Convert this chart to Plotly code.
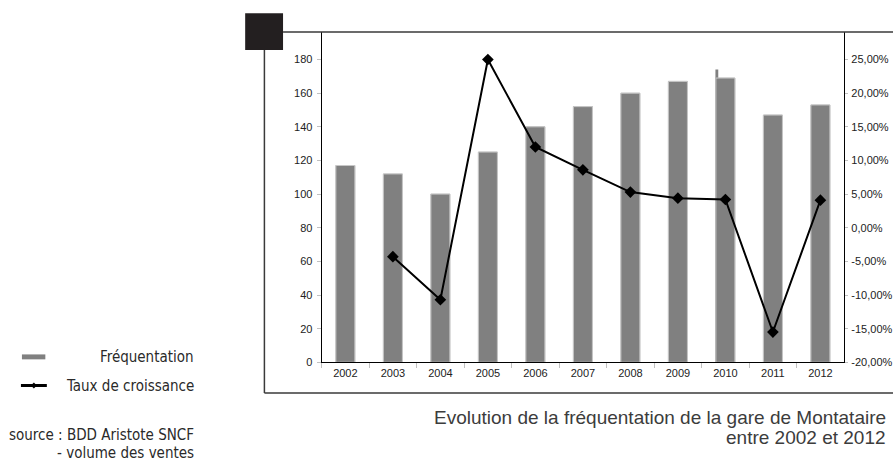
import plotly.graph_objects as go

# ---- data ----
years = ["2002", "2003", "2004", "2005", "2006", "2007", "2008", "2009", "2010", "2011", "2012"]
frequentation = [117, 112, 100, 125, 140, 152, 160, 167, 169, 147, 153]
spike_year = ["2010"]
spike_value = [174]
growth = [None, -4.3, -10.7, 25.0, 12.0, 8.6, 5.3, 4.4, 4.2, -15.5, 4.1]

left_ticks = [0, 20, 40, 60, 80, 100, 120, 140, 160, 180]
right_ticks = [-20, -15, -10, -5, 0, 5, 10, 15, 20, 25]
right_ticktext = ["-20,00%", "-15,00%", "-10,00%", "-5,00%", "0,00%",
                  "5,00%", "10,00%", "15,00%", "20,00%", "25,00%"]

legend_labels = ["Fréquentation", "Taux de croissance"]
source_lines = ["source : BDD Aristote SNCF", "- volume des ventes"]
title_lines = ["Evolution de la fréquentation de la gare de Montataire", "entre 2002 et 2012"]

W, H = 893, 470


def px(x):
    return x / W


def py(y):
    return 1 - y / H


NARROW = "DejaVu Sans Condensed, Liberation Sans Narrow, Arial Narrow, sans-serif"
REG = "Liberation Sans, Arial, sans-serif"
BAR_COLOR = "#808080"

fig = go.Figure()

fig.add_bar(x=years, y=frequentation, width=0.4, name=legend_labels[0],
            marker=dict(color=BAR_COLOR, line=dict(color="#c8c8c8", width=1)),
            showlegend=False)
fig.add_bar(x=spike_year, y=spike_value, width=0.06, offset=-0.21,
            marker=dict(color=BAR_COLOR, line=dict(width=0)),
            showlegend=False, hoverinfo="skip")
fig.add_bar(x=years, y=frequentation, width=0.4, showlegend=False, hoverinfo="skip",
            marker=dict(color=BAR_COLOR, line=dict(color="#c8c8c8", width=1)))
fig.add_scatter(x=years, y=growth, yaxis="y2", mode="lines+markers",
                name=legend_labels[1], connectgaps=False,
                line=dict(color="black", width=2),
                marker=dict(symbol="diamond", size=9, color="black"),
                showlegend=False)

x_dom = [px(322.7), px(847)]
y_dom = [py(367), py(32)]

tickfont = dict(family=REG, size=11, color="#222")

fig.update_layout(
    width=W, height=H,
    margin=dict(l=0, r=0, t=0, b=0),
    paper_bgcolor="white", plot_bgcolor="white",
    barmode="overlay",
    showlegend=False,
    xaxis=dict(type="category", categoryorder="array", categoryarray=years,
               domain=x_dom, range=[-0.5, 10.5],
               showline=True, linecolor="black", linewidth=1,
               ticks="outside", tickson="boundaries", ticklen=5,
               tickcolor="#c0c0c0", showgrid=False, zeroline=False,
               tickfont=tickfont),
    yaxis=dict(domain=y_dom, range=[0, 196.6], tickvals=left_ticks,
               showline=True, linecolor="black", linewidth=1,
               ticks="outside", ticklen=4, tickcolor="#c0c0c0",
               ticklabelstandoff=2,
               showgrid=False, zeroline=False, tickfont=tickfont),
    yaxis2=dict(overlaying="y", side="right", anchor="x",
                range=[-20, 29.15], tickvals=right_ticks, ticktext=right_ticktext,
                showline=True, linecolor="black", linewidth=1,
                ticks="outside", ticklen=3, tickcolor="#c0c0c0",
                ticklabelstandoff=1,
                showgrid=False, zeroline=False, tickfont=tickfont),
)

shapes = []
frame = "#3a3a3a"
# outer frame
shapes.append(dict(type="line", xref="paper", yref="paper",
                   x0=px(284), x1=px(905), y0=py(32.3), y1=py(32.3),
                   line=dict(color=frame, width=1.5)))
shapes.append(dict(type="line", xref="paper", yref="paper",
                   x0=px(265.3), x1=px(265.3), y0=py(50), y1=py(398),
                   line=dict(color=frame, width=1.5)))
shapes.append(dict(type="line", xref="paper", yref="paper",
                   x0=px(265.3), x1=px(905), y0=py(398), y1=py(398),
                   line=dict(color=frame, width=1.5)))
# black square
shapes.append(dict(type="rect", xref="paper", yref="paper",
                   x0=px(246), x1=px(284), y0=py(50.7), y1=py(13.3),
                   fillcolor="#231f20", line=dict(width=0)))
# legend swatches
shapes.append(dict(type="rect", xref="paper", yref="paper",
                   x0=px(22), x1=px(45.5), y0=py(364), y1=py(359),
                   fillcolor=BAR_COLOR, line=dict(width=0)))
shapes.append(dict(type="line", xref="paper", yref="paper",
                   x0=px(21), x1=px(47), y0=py(390.5), y1=py(390.5),
                   line=dict(color="black", width=3)))
shapes.append(dict(type="path", xref="paper", yref="paper",
                   path=f"M {px(34)} {py(387.5)} L {px(37)} {py(390.5)} L {px(34)} {py(393.5)} L {px(31)} {py(390.5)} Z",
                   fillcolor="black", line=dict(width=0)))
fig.update_layout(shapes=shapes)

txt_color = "#2a2a2a"
narrow_font = dict(family=NARROW, size=15, color=txt_color)
title_font = dict(family=REG, size=19, color="#3c3c3c")


def add_text(text, x, y, font):
    fig.add_annotation(text=text, x=px(x), y=py(y), xref="paper", yref="paper",
                       xanchor="right", yanchor="middle", showarrow=False,
                       font=font, borderpad=0)


add_text(legend_labels[0], 196, 362, narrow_font)
add_text(legend_labels[1], 196, 391, narrow_font)
add_text(source_lines[0], 196, 441, narrow_font)
add_text(source_lines[1], 196, 459, narrow_font)
add_text(title_lines[0], 890, 423, title_font)
add_text(title_lines[1], 890, 443, title_font)

fig.write_html(
    "out.html",
    config={"displayModeBar": False},
    post_script="document.body.style.margin='0';document.body.style.overflow='hidden';",
)
